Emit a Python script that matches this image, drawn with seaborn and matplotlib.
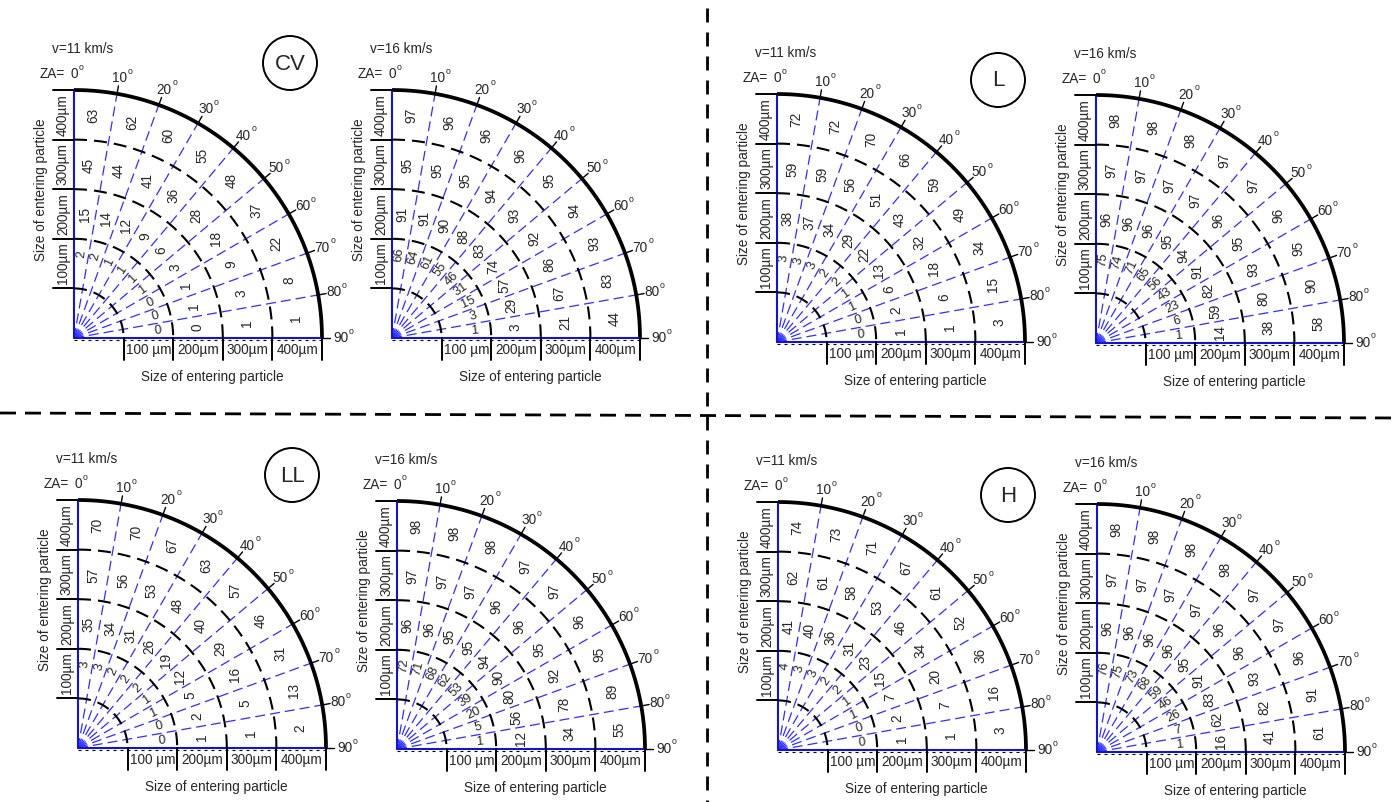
import numpy as np
import pandas as pd
import matplotlib
matplotlib.use('Agg')
import matplotlib.pyplot as plt
import seaborn as sns


# Zenith angles (sector edges) and size bins
za = [0, 10, 20, 30, 40, 50, 60, 70, 80, 90]
size_x = ['100 µm', '200µm', '300µm', '400µm']
size_y = ['100µm', '200µm', '300µm', '400µm']

# Values per cell: one row per size bin (100..400 µm), one column per ZA sector (0-10 .. 80-90)
cv_11 = [[2, 2, 1, 1, 1, 1, 0, 0, 0],
         [15, 14, 12, 9, 6, 3, 1, 1, 0],
         [45, 44, 41, 36, 28, 18, 9, 3, 1],
         [63, 62, 60, 55, 48, 37, 22, 8, 1]]
cv_16 = [[66, 64, 61, 55, 46, 31, 15, 3, 1],
         [91, 91, 90, 88, 83, 74, 57, 29, 3],
         [95, 95, 95, 94, 93, 92, 86, 67, 21],
         [97, 96, 96, 96, 95, 94, 93, 83, 44]]
l_11 = [[3, 3, 3, 2, 2, 1, 1, 0, 0],
        [38, 37, 34, 29, 22, 13, 6, 2, 1],
        [59, 59, 56, 51, 43, 32, 18, 6, 1],
        [72, 72, 70, 66, 59, 49, 34, 15, 3]]
l_16 = [[75, 74, 71, 65, 56, 43, 23, 6, 1],
        [96, 96, 96, 95, 94, 91, 82, 59, 14],
        [97, 97, 97, 97, 96, 95, 93, 80, 38],
        [98, 98, 98, 97, 97, 96, 95, 90, 58]]
ll_11 = [[3, 3, 2, 2, 2, 1, 1, 0, 0],
         [35, 34, 31, 26, 19, 12, 5, 2, 1],
         [57, 56, 53, 48, 40, 29, 16, 5, 1],
         [70, 70, 67, 63, 57, 46, 31, 13, 2]]
ll_16 = [[72, 71, 68, 62, 53, 39, 20, 5, 1],
         [96, 96, 95, 95, 94, 90, 80, 56, 12],
         [97, 97, 97, 96, 96, 95, 92, 78, 34],
         [98, 98, 98, 97, 97, 96, 95, 89, 55]]
h_11 = [[4, 3, 3, 2, 2, 1, 1, 0, 0],
        [41, 40, 36, 31, 23, 15, 7, 2, 1],
        [62, 61, 58, 53, 46, 34, 20, 7, 1],
        [74, 73, 71, 67, 61, 52, 36, 16, 3]]
h_16 = [[76, 75, 73, 68, 59, 46, 26, 7, 1],
        [96, 96, 96, 96, 95, 91, 83, 62, 16],
        [97, 97, 97, 97, 96, 96, 93, 82, 41],
        [98, 98, 98, 98, 97, 97, 96, 91, 61]]

sns.set_theme(style='white')
plt.rcParams['font.family'] = ['Liberation Sans', 'DejaVu Sans']

PX = 0.72  # points per pixel at dpi 100
FS = 9.8
BLUE = '#2f2fff'
AXBLUE = '#1414c8'
R = 248.0
STEP = R / 5


def dash(on, off, lw):
    return (0, (on * PX / lw, off * PX / lw))


def polar(ox, oy, r, deg):
    t = np.radians(deg)
    return ox + r * np.sin(t), oy - r * np.cos(t)


def deg_label(ax, x, y, num, prefix=None):
    s = str(num)
    ax.text(x, y, s, ha='center', va='center', fontsize=FS)
    w = len(s) * 0.556 * FS / PX
    ax.text(x + w / 2 + 0.5, y - 7, 'o', ha='left', va='center', fontsize=6.3)
    if prefix:
        ax.text(x - w / 2 - 5, y, prefix, ha='right', va='center', fontsize=FS)


def draw_fan(ax, ox, oy, values, speed):
    # blue dashed radial lines every 10 deg
    rows = []
    for a in za[1:-1]:
        x, y = polar(ox, oy, np.array([0.0, R]), a)
        rows += [{'za': a, 'x': x[0], 'y': y[0]}, {'za': a, 'x': x[1], 'y': y[1]}]
    sns.lineplot(data=pd.DataFrame(rows), x='x', y='y', units='za', estimator=None,
                 sort=False, color=BLUE, lw=0.9, linestyle=dash(10, 5, 0.9), ax=ax)

    # dashed size rings and solid outer arc
    t = np.linspace(0, 90, 181)
    arcs = []
    for k in range(1, 5):
        x, y = polar(ox, oy, k * STEP, t)
        arcs.append(pd.DataFrame({'ring': k, 'x': x, 'y': y}))
    sns.lineplot(data=pd.concat(arcs), x='x', y='y', units='ring', estimator=None,
                 sort=False, color='black', lw=1.5, linestyle=dash(13, 7, 1.5), ax=ax)
    x, y = polar(ox, oy, R, t)
    ax.plot(x, y, color='black', lw=2.7, solid_capstyle='butt')

    # axes
    ax.plot([ox, ox], [oy, oy - R], color=AXBLUE, lw=1.5)
    ax.plot([ox, ox + R], [oy, oy], color=AXBLUE, lw=1.5)
    ax.plot([ox, ox + R], [oy + 1.5, oy + 1.5], color='black', lw=0.8,
            linestyle=dash(3, 4, 0.8))

    # size ticks
    for k in range(1, 6):
        ax.plot([ox - 21, ox], [oy - k * STEP] * 2, color='black', lw=1.4)
        ax.plot([ox + k * STEP] * 2, [oy, oy + 22], color='black', lw=1.4)
    for k in range(4):
        ax.text(ox + (k + 1.5) * STEP, oy + 12, size_x[k], ha='center', va='center', fontsize=FS)
        ax.text(ox - 11, oy - (k + 1.5) * STEP, size_y[k], ha='center', va='center',
                fontsize=FS, rotation=90)

    # angle ticks and labels
    for a in za[1:]:
        x, y = polar(ox, oy, np.array([R, R + 8]), a)
        ax.plot(x, y, color='black', lw=1.0)
    for a in za:
        x, y = polar(ox, oy, 264, a)
        if a == 90:
            x += 3
        deg_label(ax, x, y, a, prefix='ZA=' if a == 0 else None)

    # cell values
    for k, row in enumerate(values):
        for j, v in enumerate(row):
            a = za[j] + 5
            if k == 0:
                x, y = polar(ox, oy, 84, a)
                ax.text(x, y, str(v), ha='center', va='center', fontsize=9.3,
                        rotation=90 - a, rotation_mode='anchor')
            else:
                x, y = polar(ox, oy, (k + 1.5) * STEP, a)
                ax.text(x, y, str(v), ha='center', va='center', fontsize=FS, rotation=90)

    ax.text(ox - 22, oy - 289, f'v={speed} km/s', ha='left', va='center', fontsize=FS)
    ax.text(ox - 33, oy - 148, 'Size of entering particle', ha='center', va='center',
            fontsize=FS, rotation=90)
    ax.text(ox + 138, oy + 39, 'Size of entering particle', ha='center', va='center', fontsize=FS)


fig = plt.figure(figsize=(14, 8.02), dpi=100)
ax = fig.add_axes([0, 0, 1, 1])

panels = [
    ('CV', cv_11, cv_16, (74, 338), (392, 338), (290, 63)),
    ('L', l_11, l_16, (777, 342), (1096, 343), (998, 80)),
    ('LL', ll_11, ll_16, (78, 748), (397, 749), (292, 475)),
    ('H', h_11, h_16, (778, 750), (1097, 752), (1008, 495)),
]

for name, v11, v16, o11, o16, c in panels:
    draw_fan(ax, o11[0], o11[1], v11, 11)
    draw_fan(ax, o16[0], o16[1], v16, 16)
    ax.add_patch(plt.Circle(c, 27, fill=False, color='black', lw=1.4))
    ax.text(c[0], c[1] + 1, name, ha='center', va='center', fontsize=16)

# panel dividers
ax.plot([707, 707], [8, 802], color='black', lw=2.0, linestyle=dash(14, 10, 2.0))
ax.plot([0, 1400], [413, 418], color='black', lw=2.0, linestyle=dash(16, 9, 2.0))

ax.set_xlim(0, 1400)
ax.set_ylim(802, 0)
ax.set_axis_off()
fig.savefig('out.png', dpi=100)
